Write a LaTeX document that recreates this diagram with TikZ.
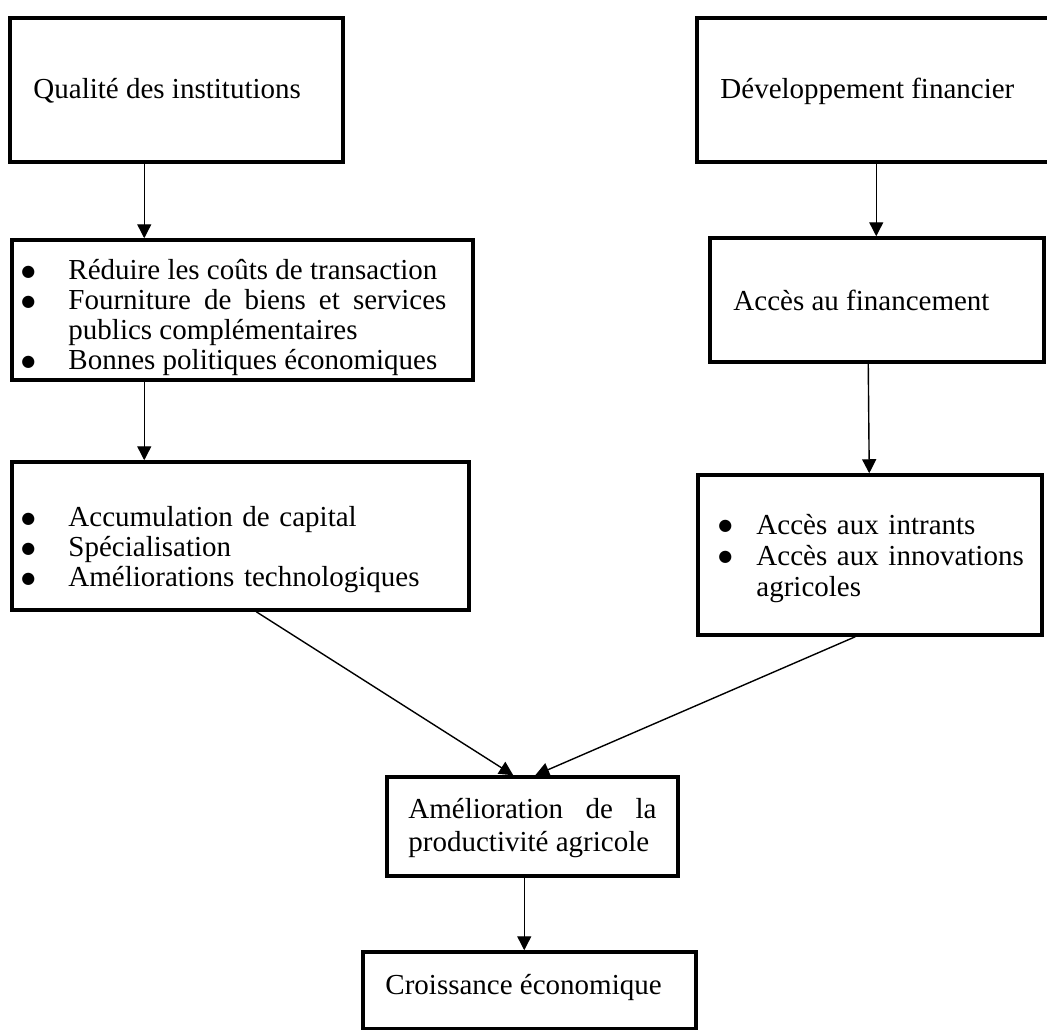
\documentclass[tikz,border=0pt]{standalone}
\usepackage{fontspec}
\setmainfont{Liberation Serif}
\newfontfamily\symf{DejaVu Sans}
\usetikzlibrary{arrows.meta}
\hyphenpenalty=10000\relax
\exhyphenpenalty=10000\relax
\newcommand{\blt}{\raisebox{3.5pt}{\symf\fontsize{16}{30}\selectfont ●}}
\newcommand{\bpt}[2][47pt]{\par\noindent\hangindent=#1\hangafter=1\makebox[#1][l]{\blt}#2\par}
\begin{document}
\begin{tikzpicture}[x=1pt,y=-1pt,
  box/.style={draw, line width=3.5pt, rectangle, inner sep=0pt},
  txt/.style={inner sep=0pt, font=\fontsize{29}{30}\selectfont},
  arr/.style={line width=1.4pt, -{Triangle[length=14pt,width=14pt]}}]
\useasboundingbox (0,0) rectangle (1047,1030);
% boxes
\node[box, minimum width=333pt, minimum height=144pt] (A) at (176.5,90) {};
\node[box, minimum width=363pt, minimum height=144pt] (B) at (878.5,90) {};
\node[box, minimum width=461pt, minimum height=140pt] (C) at (242.5,310) {};
\node[box, minimum width=334pt, minimum height=124pt] (D) at (877,300) {};
\node[box, minimum width=457pt, minimum height=148pt] (E) at (240.5,536) {};
\node[box, minimum width=344pt, minimum height=160pt] (F) at (870,555) {};
\node[box, minimum width=291pt, minimum height=99pt] (G) at (532.5,826.5) {};
\node[box, minimum width=333pt, minimum height=77pt] (H) at (529.5,990.5) {};
% texts
\node[txt, anchor=west] (tA) at ([xshift=25pt,yshift=-1pt]A.west) {Qualité des institutions};
\node[txt, anchor=west] (tB) at ([xshift=25pt,yshift=-1pt]B.west) {Développement financier};
\node[txt, anchor=west] (tD) at ([xshift=25pt]D.west) {Accès au financement};
\node[txt, anchor=west, text width=425pt, align=justify] (tC) at ([xshift=11pt,yshift=-3pt]C.west)
  {\bpt{Réduire les coûts de transaction}\bpt{Fourniture de biens et services publics complémentaires}\bpt{Bonnes politiques économiques}};
\node[txt, anchor=west, text width=430pt, align=left] (tE) at ([xshift=11pt,yshift=-9pt]E.west)
  {\bpt{Accumulation de capital}\bpt{Spécialisation}\bpt{Améliorations technologiques}};
\node[txt, anchor=west, text width=316pt, align=left, font=\fontsize{29}{31}\selectfont] (tF) at ([xshift=22pt,yshift=2pt]F.west)
  {\bpt[38pt]{Accès aux intrants}\bpt[38pt]{Accès aux innovations agricoles}};
\node[txt, anchor=west, text width=248pt, align=justify, font=\fontsize{29}{33}\selectfont] (tG) at ([xshift=23pt,yshift=-2pt]G.west)
  {Amélioration de la productivité agricole};
\node[txt, anchor=west] (tH) at ([xshift=24pt,yshift=3pt]H.west) {Croissance économique};
% connectors
\draw[arr] ([xshift=136pt]A.south west) -- ([xshift=134pt]C.north west);
\draw[arr] ([xshift=181pt]B.south west) -- ([xshift=168pt]D.north west);
\draw[arr] ([xshift=134pt]C.south west) -- ([xshift=134pt]E.north west);
\draw[arr] ([xshift=160pt]D.south west) -- ([xshift=173pt]F.north west);
\draw[arr] ([xshift=246pt]E.south west) -- ([xshift=128pt]G.north west);
\draw[arr] ([xshift=159pt]F.south west) -- ([xshift=150pt]G.north west);
\draw[arr] ([xshift=139pt]G.south west) -- ([xshift=163pt]H.north west);
\end{tikzpicture}
\end{document}
